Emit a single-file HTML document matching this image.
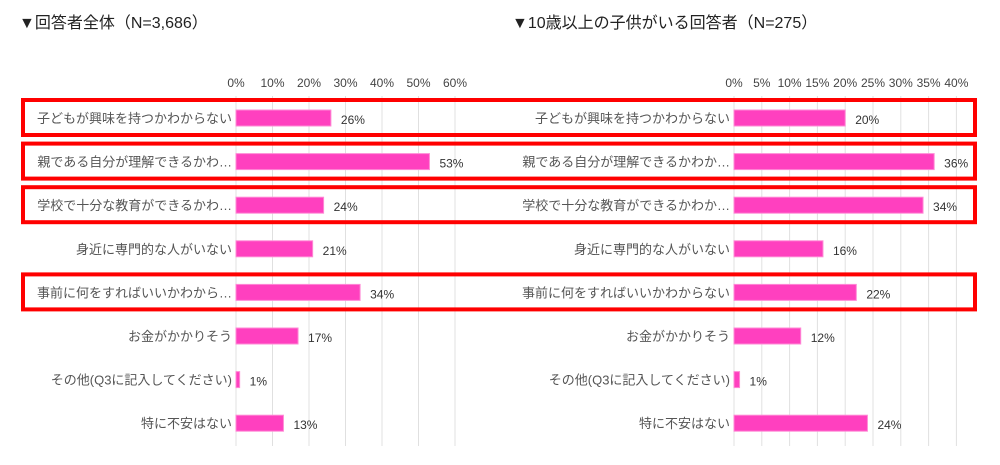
<!DOCTYPE html>
<html><head><meta charset="utf-8"><style>
body{margin:0;background:#fff;width:1000px;height:465px;overflow:hidden;font-family:"Liberation Sans","Noto Sans CJK JP",sans-serif}
svg{display:block}
</style></head><body>
<svg id="c" width="1000" height="465" xmlns="http://www.w3.org/2000/svg">
<text x="19" y="28" font-size="16" fill="#222" font-family="Liberation Sans,Noto Sans CJK JP,sans-serif">▼回答者全体（N=3,686）</text>
<text x="512" y="28" font-size="16" fill="#222" font-family="Liberation Sans,Noto Sans CJK JP,sans-serif">▼10歳以上の子供がいる回答者（N=275）</text>
</svg>
<script>
const labelsLeft=["子どもが興味を持つかわからない","親である自分が理解できるかわ…","学校で十分な教育ができるかわ…","身近に専門的な人がいない","事前に何をすればいいかわから…","お金がかかりそう","その他(Q3に記入してください)","特に不安はない"];
const labelsRight=["子どもが興味を持つかわからない","親である自分が理解できるかわか…","学校で十分な教育ができるかわか…","身近に専門的な人がいない","事前に何をすればいいかわからない","お金がかかりそう","その他(Q3に記入してください)","特に不安はない"];
const valuesLeft=[26,53,24,21,34,17,1,13];
const valuesRight=[20,36,34,16,22,12,1,24];
const ticksLeft=[0,10,20,30,40,50,60];
const ticksRight=[0,5,10,15,20,25,30,35,40];
const highlighted=[0,1,2,4];
const NS="http://www.w3.org/2000/svg";
const svg=document.getElementById('c');
function mk(t,a,p){const e=document.createElementNS(NS,t);for(const k in a)e.setAttribute(k,a[k]);(p||svg).appendChild(e);return e;}
const rowY=i=>118+i*43.6;
function chart(name,x0,pxPer,ticks,labels,vals){
  const g=mk('g',{});
  
  
  const x=v=>x0+v*pxPer;
  ticks.forEach(t=>{
    const l=mk('line',{x1:x(t),x2:x(t),y1:96,y2:446,stroke:'#e0e0e0','stroke-width':1},g);
    
    
    const tx=mk('text',{x:x(t),y:87,'font-size':12,fill:'#444','text-anchor':'middle'},g);
    
    
    tx.textContent=t+'%';
  });
  labels.forEach((lb,i)=>{
    const y=rowY(i);
    const t=mk('text',{x:x0-4,y:y+5,'font-size':13,fill:'#555','text-anchor':'end'},g);
    
    
    t.textContent=lb;
    const b=mk('rect',{x:x0,y:y-8,width:Math.max(vals[i]*pxPer,1),height:16,fill:'#ff40bf',stroke:'#ff8ad6','stroke-width':1},g);
    
    
    const v=mk('text',{x:x0+vals[i]*pxPer+10,y:y+6,'font-size':12,fill:'#333'},g);
    
    
    v.textContent=vals[i]+'%';
  });
}
chart('left-chart',236,3.65,ticksLeft,labelsLeft,valuesLeft);
chart('right-chart',734,5.56,ticksRight,labelsRight,valuesRight);
highlighted.forEach(i=>{
  const y=rowY(i);
  const r=mk('rect',{x:23,y:y-18,width:952,height:35,fill:'none',stroke:'#ff0000','stroke-width':4});
  
  
});
</script>
</body></html>
